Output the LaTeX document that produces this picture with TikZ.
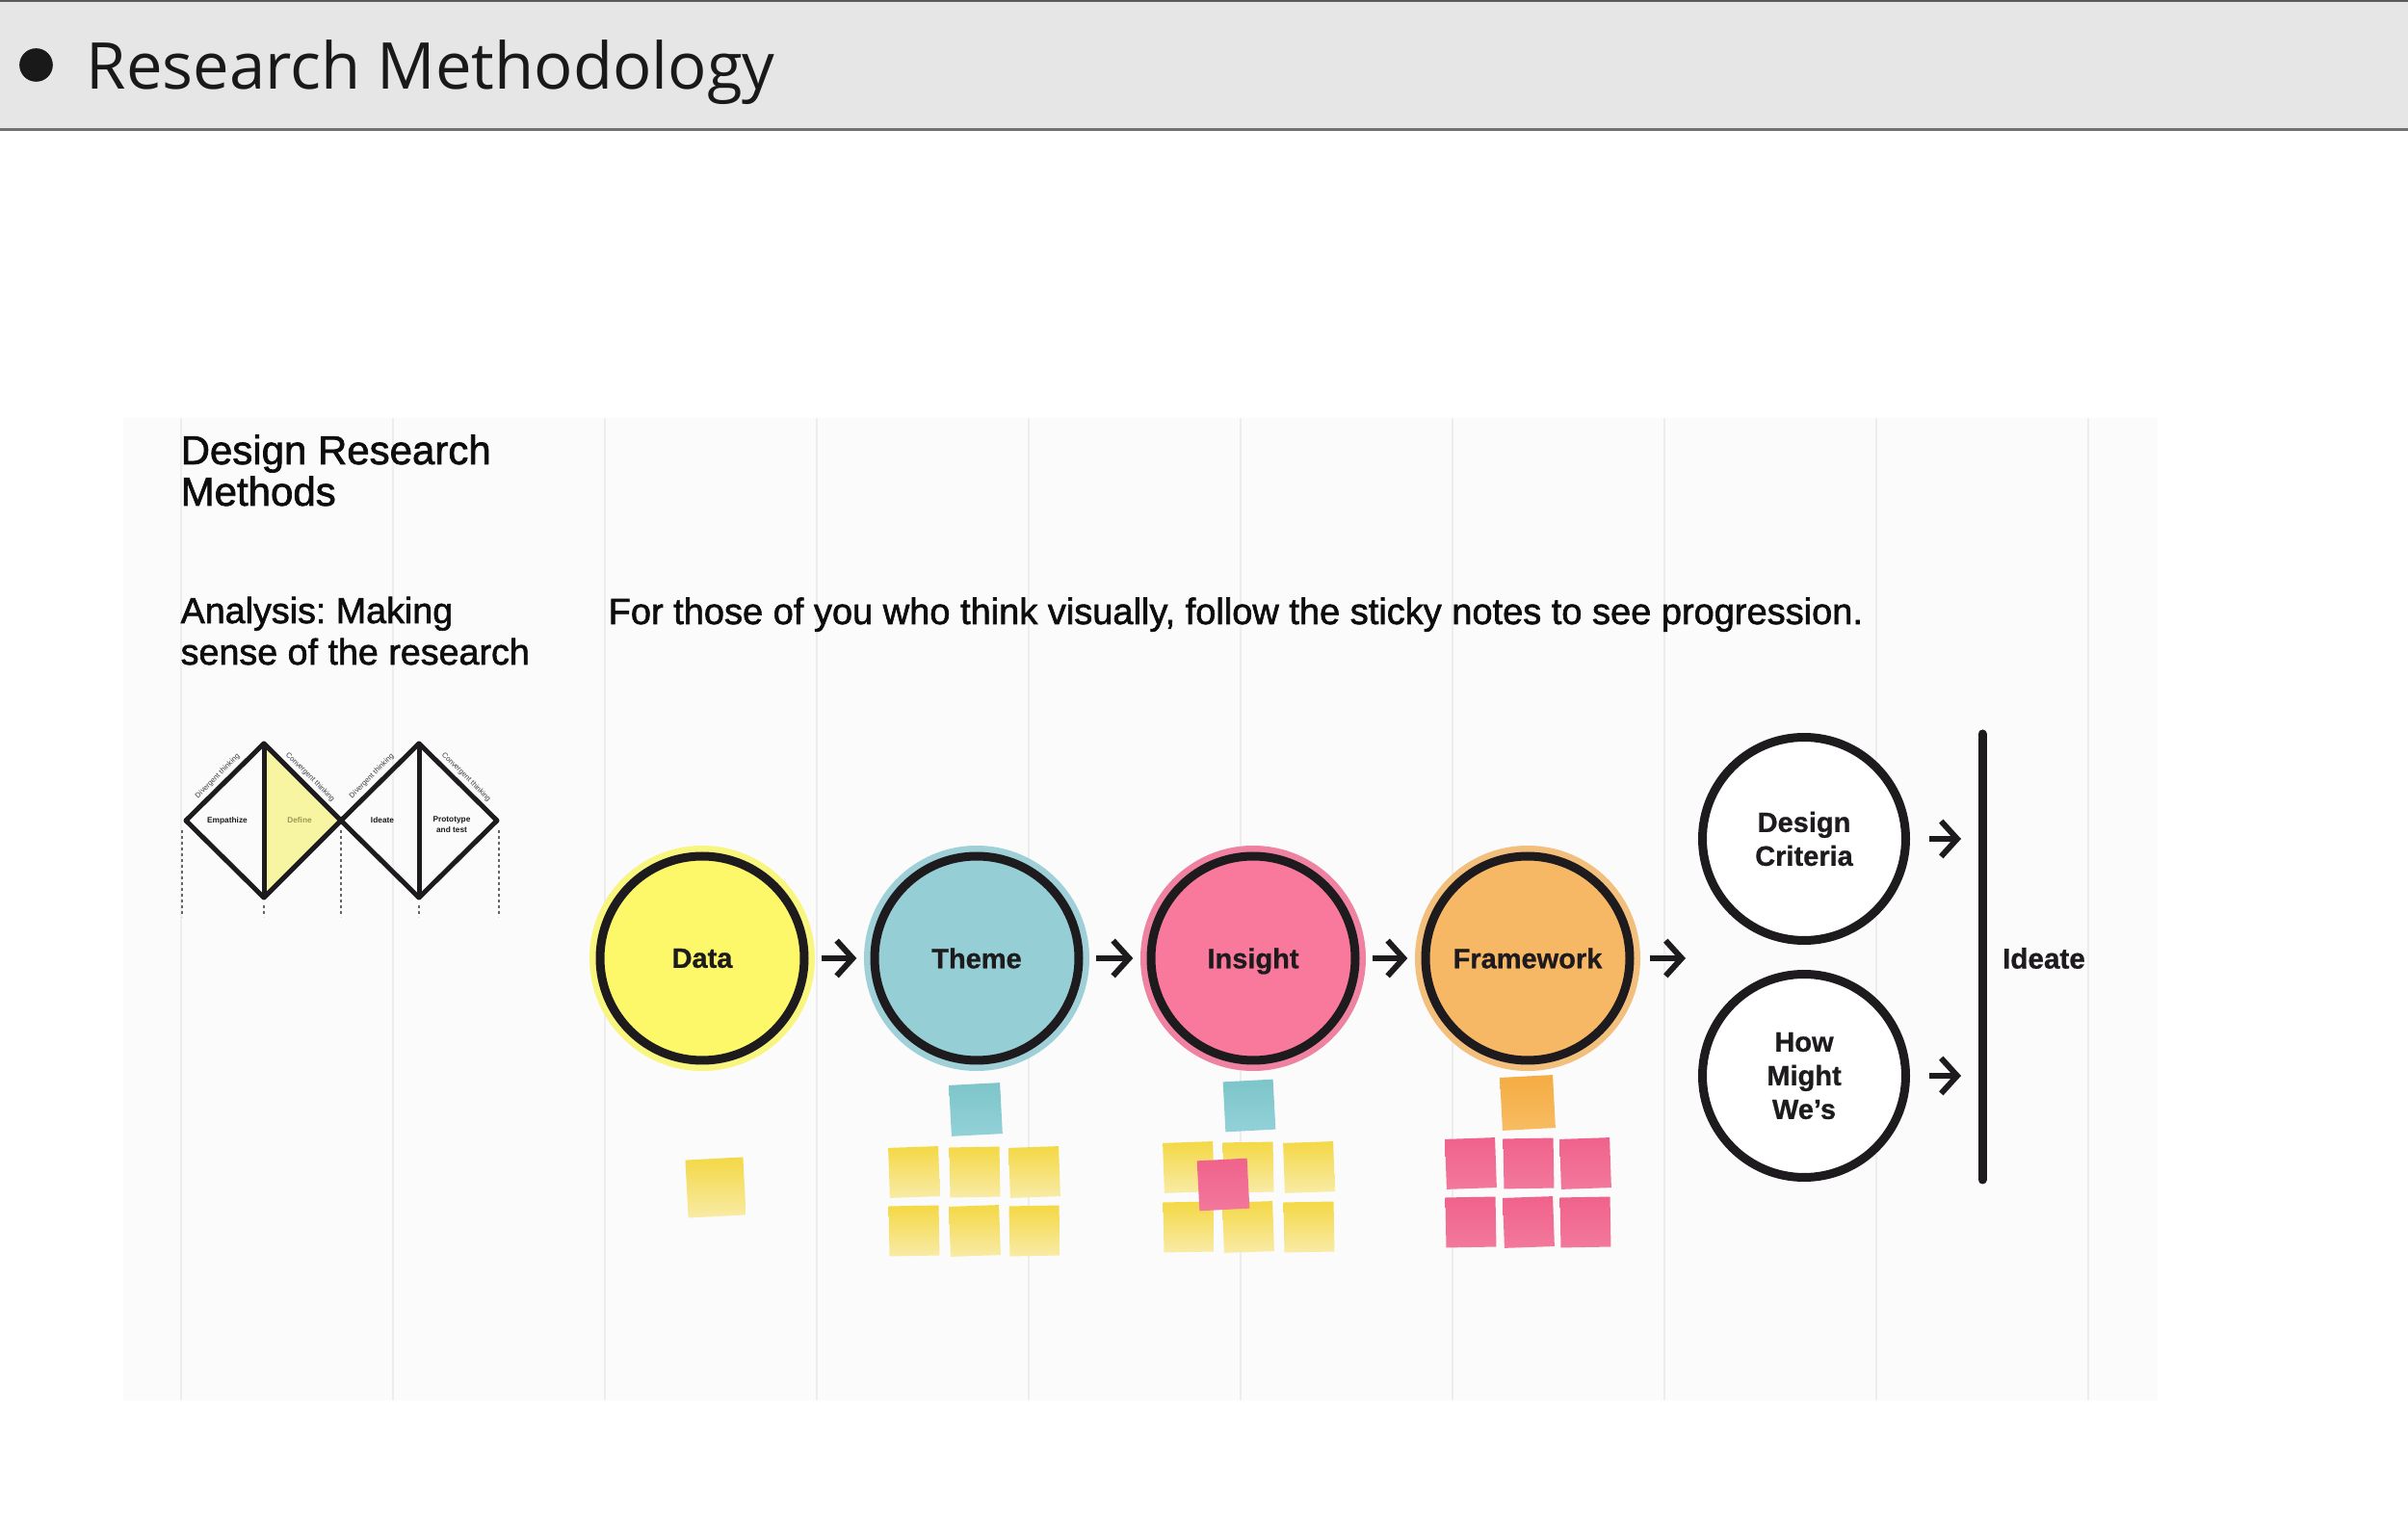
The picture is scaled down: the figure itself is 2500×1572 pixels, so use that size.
\documentclass[tikz,border=0pt]{standalone}
\usepackage{fontspec}
\setmainfont{Liberation Sans}
\newfontfamily\titlefont{Open Sans}
\newfontfamily\medfont[FakeBold=1.6]{Liberation Sans}
\newfontfamily\heavyfont[FakeBold=0.8]{Liberation Sans Bold}
\frenchspacing
\usetikzlibrary{arrows.meta,shapes.geometric,calc}
\definecolor{ink}{HTML}{1E1B1E}
\definecolor{headgray}{HTML}{E6E6E6}
\definecolor{headline}{HTML}{727272}
\definecolor{panelbg}{HTML}{FBFBFB}
\definecolor{gridc}{HTML}{EDEDED}
\definecolor{dataF}{HTML}{FCF86A}
\definecolor{dataH}{HTML}{F8F67E}
\definecolor{themeF}{HTML}{95CED4}
\definecolor{themeH}{HTML}{9FD0D7}
\definecolor{insF}{HTML}{F8799B}
\definecolor{insH}{HTML}{EE82A0}
\definecolor{frameF}{HTML}{F7B865}
\definecolor{frameH}{HTML}{F3BF7C}
\definecolor{stY}{HTML}{F4D845}
\definecolor{stYl}{HTML}{F8EBA6}
\definecolor{stT}{HTML}{7DC5CA}
\definecolor{stTl}{HTML}{92D1D8}
\definecolor{stP}{HTML}{F0628B}
\definecolor{stPl}{HTML}{F2789C}
\definecolor{stO}{HTML}{F5AC42}
\definecolor{stOl}{HTML}{F7BC62}
\definecolor{defY}{HTML}{F8F5A2}
\definecolor{defT}{HTML}{9A9A55}
\begin{document}
\begin{tikzpicture}[x=0.3pt,y=0.3pt,
  halo/.style={circle, inner sep=0pt, minimum size=70.2pt},
  ring/.style={circle, draw=ink, line width=2.7pt, inner sep=0pt, minimum size=63.6pt,
    font=\heavyfont\fontsize{8.7}{10.5}\selectfont, text=ink, align=center},
  note/.style={inner sep=0pt, minimum size=15.6pt},
  ynote/.style={note, top color=stY, bottom color=stYl},
  tnote/.style={note, top color=stT, bottom color=stTl},
  pnote/.style={note, top color=stP, bottom color=stPl},
  onote/.style={note, top color=stO, bottom color=stOl},
  flow/.style={draw=ink, line width=1.8pt, -{Straight Barb[length=5pt,width=11pt]}},
  tinyb/.style={inner sep=0pt, font=\bfseries\fontsize{2.5}{3.4}\selectfont, text=ink},
  tinyr/.style={inner sep=0pt, font=\fontsize{2.3}{3}\selectfont, text=ink!85},
  dotline/.style={draw=black!60, line width=0.45pt, dash pattern=on 0.9pt off 0.9pt},
  bodytext/.style={anchor=base west, inner sep=0pt, text=black!95}
]
\useasboundingbox (0,0) rectangle (2500,-1572);
\fill[white] (0,0) rectangle (2500,-1572);
% header band
\fill[headgray] (0,0) rectangle (2500,-134);
\fill[black!65] (0,0) rectangle (2500,-2.5);
\fill[headline] (0,-133) rectangle (2500,-136);
\node[circle, fill=black!90, inner sep=0pt, minimum size=10.4pt] (bullet) at (37.5,-67.5) {};
\node[anchor=base west, inner sep=0pt, font=\titlefont\fontsize{20.1}{24}\selectfont, text=black!90] (title) at (89,-93) {Research Methodology};
% panel
\fill[panelbg] (128,-434) rectangle (2240,-1454);
\foreach \gx in {188,408,628,848,1068,1288,1508,1728,1948,2168}
  \draw[gridc, line width=0.45pt] (\gx,-434) -- (\gx,-1454);
% texts
\node[bodytext, font=\medfont\fontsize{12.6}{13}\selectfont] (drm1) at (187,-482) {Design Research};
\node[bodytext, font=\medfont\fontsize{12.6}{13}\selectfont] (drm2) at (187,-525) {Methods};
\node[bodytext, font=\medfont\fontsize{11.3}{13}\selectfont] (an1) at (187,-647) {Analysis: Making};
\node[bodytext, font=\medfont\fontsize{11.3}{13}\selectfont] (an2) at (187,-690) {sense of the research};
\node[bodytext, font=\medfont\fontsize{11.4}{13}\selectfont] (intro) at (631,-648) {For those of you who think visually, follow the sticky notes to see progression.};
% double diamond
\coordinate (L1) at (193,-852);
\coordinate (T1) at (274,-772);
\coordinate (B1) at (274,-932);
\coordinate (M) at (354,-852);
\coordinate (T2) at (435,-772);
\coordinate (B2) at (435,-932);
\coordinate (R2) at (516,-852);
\fill[defY] (T1) -- (M) -- (B1) -- cycle;
\draw[ink, line width=1.5pt, line join=round] (L1) -- (T1) -- (M) -- (T2) -- (R2) -- (B2) -- (M) -- (B1) -- cycle;
\draw[ink, line width=1.5pt] (T1) -- (B1);
\draw[ink, line width=1.5pt] (T2) -- (B2);
\draw[dotline] (189,-862) -- (189,-952);
\draw[dotline] (274,-940) -- (274,-952);
\draw[dotline] (354,-862) -- (354,-952);
\draw[dotline] (435,-940) -- (435,-952);
\draw[dotline] (518,-862) -- (518,-952);
\node[tinyb] (emp) at (236,-852) {Empathize};
\node[tinyb, text=defT] (def) at (311,-852) {Define};
\node[tinyb] (ide) at (397,-852) {Ideate};
\node[tinyb, align=center] (pro) at (469,-856) {Prototype\\and test};
\node[tinyr, rotate=45] (dv1) at (226,-806) {Divergent thinking};
\node[tinyr, rotate=-45] (cv1) at (322,-807) {Convergent thinking};
\node[tinyr, rotate=45] (dv2) at (386,-806) {Divergent thinking};
\node[tinyr, rotate=-45] (cv2) at (484,-807) {Convergent thinking};
% main circles
\node[halo, fill=dataH] (data) at (729,-995) {};
\node[ring, fill=dataF] (dataR) at (data) {Data};
\node[halo, fill=themeH] (theme) at (1014,-995) {};
\node[ring, fill=themeF] (themeR) at (theme) {Theme};
\node[halo, fill=insH] (insight) at (1301,-995) {};
\node[ring, fill=insF] (insightR) at (insight) {Insi\smash{g}ht};
\node[halo, fill=frameH] (frame) at (1586,-995) {};
\node[ring, fill=frameF] (frameR) at (frame) {Framework};
\node[ring, fill=white, minimum size=63.3pt] (dc) at (1873,-871) {Design\\Criteria};
\node[ring, fill=white, minimum size=63.3pt] (hmw) at (1873,-1117) {How\\Might\\We’s};
% bar and ideate
\coordinate (bartop) at (2058,-762);
\coordinate (barbot) at (2058,-1225);
\draw[ink, line width=2.7pt, line cap=round] (bartop) -- (barbot);
\node[font=\heavyfont\fontsize{8.9}{10}\selectfont, text=ink, inner sep=0pt] (ideate) at (2122,-995) {Ideate};
\coordinate (split) at (1750,-995);
% arrows
\draw[flow, shorten <=1.8pt, shorten >=2.1pt] (data) -- (theme);
\draw[flow, shorten <=1.8pt, shorten >=2.1pt] (theme) -- (insight);
\draw[flow, shorten <=1.8pt, shorten >=2.1pt] (insight) -- (frame);
\draw[flow, shorten <=2.7pt] (frame) -- (split);
\draw[flow, shorten <=5.9pt, shorten >=6.6pt] (dc) -- (dc -| bartop);
\draw[flow, shorten <=5.9pt, shorten >=6.6pt] (hmw) -- (hmw -| bartop);
% sticky notes
\node[ynote, minimum size=18pt, rotate=3] (sd) at (743,-1233) {};
\node[tnote, minimum size=15.9pt, rotate=3] (st0) at (1013,-1152) {};
\node[ynote, rotate=2] (st1) at (949,-1217) {};
\node[ynote, rotate=1] (st2) at (1012,-1217) {};
\node[ynote, rotate=2] (st3) at (1074,-1217) {};
\node[ynote, rotate=1] (st4) at (949,-1278) {};
\node[ynote, rotate=2] (st5) at (1012,-1278) {};
\node[ynote, rotate=1] (st6) at (1074,-1278) {};
\node[tnote, rotate=3] (si0) at (1297,-1148) {};
\node[ynote, rotate=2] (si1) at (1234,-1212) {};
\node[ynote, rotate=1] (si2) at (1296,-1212) {};
\node[ynote, rotate=2] (si3) at (1359,-1212) {};
\node[ynote, rotate=1] (si4) at (1234,-1274) {};
\node[ynote, rotate=2] (si5) at (1296,-1274) {};
\node[ynote, rotate=1] (si6) at (1359,-1274) {};
\node[pnote, rotate=3] (sip) at (1270,-1230) {};
\node[onote, minimum size=16.5pt, rotate=3] (sf0) at (1586,-1145) {};
\node[pnote, rotate=2] (sf1) at (1527,-1208) {};
\node[pnote, rotate=1] (sf2) at (1587,-1208) {};
\node[pnote, rotate=2] (sf3) at (1646,-1208) {};
\node[pnote, rotate=1] (sf4) at (1527,-1269) {};
\node[pnote, rotate=2] (sf5) at (1587,-1269) {};
\node[pnote, rotate=1] (sf6) at (1646,-1269) {};
\end{tikzpicture}
\end{document}
